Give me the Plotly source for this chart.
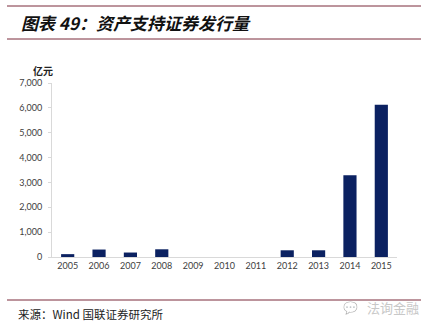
import plotly.graph_objects as go

years = ["2005", "2006", "2007", "2008", "2009", "2010", "2011", "2012", "2013", "2014", "2015"]
issuance = [115, 300, 180, 310, 0, 0, 0, 270, 270, 3290, 6130]
y_ticks = [0, 1000, 2000, 3000, 4000, 5000, 6000, 7000]
y_tick_text = ["0", "1,000", "2,000", "3,000", "4,000", "5,000", "6,000", "7,000"]

W, H = 437, 327
ML, MR, MT, MB = 52, 40, 83, 70
PW, PH = W - ML - MR, H - MT - MB


def px(x):
    return (x - ML) / PW


def py(y):
    return (H - MB - y) / PH


CJK = "Noto Sans CJK SC"
LINE_RED = "#7a2a3a"

fig = go.Figure(
    go.Bar(
        x=years,
        y=issuance,
        marker=dict(color="#0b2161", line=dict(width=0)),
        width=0.42,
    )
)

fig.update_layout(
    width=W,
    height=H,
    margin=dict(l=ML, r=MR, t=MT, b=MB),
    paper_bgcolor="white",
    plot_bgcolor="white",
    showlegend=False,
    font=dict(family="Lato, Liberation Sans, sans-serif", size=9, color="#404040"),
)

fig.update_xaxes(
    type="category",
    showgrid=False,
    showline=True,
    linecolor="#d9d9d9",
    linewidth=1,
    ticks="",
    tickfont=dict(size=9, color="#404040"),
    fixedrange=True,
)
fig.update_yaxes(
    range=[0, 7000],
    tickvals=y_ticks,
    ticktext=y_tick_text,
    showgrid=False,
    zeroline=False,
    showline=True,
    linecolor="#d9d9d9",
    linewidth=1,
    ticks="outside",
    ticklen=3,
    tickcolor="#d9d9d9",
    ticklabelstandoff=4,
    tickfont=dict(size=9, color="#404040"),
    fixedrange=True,
)

shapes = []
for yy, x0, x1 in [(6, 7, 421), (39, 7, 421), (300, 7, 421)]:
    shapes.append(
        dict(
            type="line",
            xref="paper",
            yref="paper",
            x0=px(x0),
            x1=px(x1),
            y0=py(yy),
            y1=py(yy),
            line=dict(color=LINE_RED, width=1),
        )
    )
fig.update_layout(shapes=shapes)

annotations = [
    dict(
        text="<b><i>图表 49：资产支持证券发行量</i></b>",
        x=px(19),
        y=py(23),
        xanchor="left",
        yanchor="middle",
        font=dict(family=CJK, size=17, color="#111111"),
    ),
    dict(
        text="<b>亿元</b>",
        x=px(55),
        y=py(70),
        xanchor="right",
        yanchor="middle",
        font=dict(family=CJK, size=10, color="#222222"),
    ),
    dict(
        text="来源：Wind 国联证券研究所",
        x=px(16),
        y=py(314),
        xanchor="left",
        yanchor="middle",
        font=dict(family=CJK, size=11.5, color="#222222"),
    ),
    dict(
        text="法询金融",
        x=px(421),
        y=py(307),
        xanchor="right",
        yanchor="middle",
        font=dict(family=CJK, size=13, color="#c8c8c8"),
    ),
    dict(
        text="💬",
        x=px(360),
        y=py(307),
        xanchor="right",
        yanchor="middle",
        opacity=0.35,
        font=dict(size=12, color="#c8c8c8"),
    ),
]
for a in annotations:
    a.update(xref="paper", yref="paper", showarrow=False)
fig.update_layout(annotations=annotations)

fig.write_html("out.html")
